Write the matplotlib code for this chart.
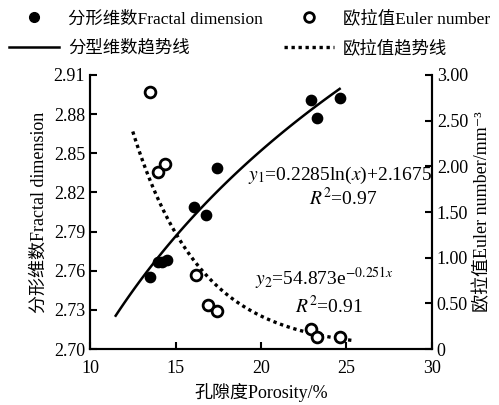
import numpy as np
import matplotlib
matplotlib.use("Agg")
import matplotlib.pyplot as plt
from matplotlib.lines import Line2D

plt.rcParams['font.family'] = ['Liberation Serif', 'Noto Sans CJK SC', 'DejaVu Serif']
plt.rcParams['mathtext.fontset'] = 'stix'
plt.rcParams['font.size'] = 13

# fractal dimension vs porosity
poro_fd = [13.5, 14.0, 14.2, 14.5, 16.1, 16.8, 17.4, 22.9, 23.3, 24.6]
fractal = [2.755, 2.767, 2.767, 2.768, 2.809, 2.803, 2.839, 2.891, 2.877, 2.892]

# Euler number vs porosity
poro_eu = [13.5, 14.0, 14.4, 16.2, 16.9, 17.4, 22.9, 23.3, 24.6]
euler = [2.81, 1.94, 2.02, 0.81, 0.48, 0.42, 0.22, 0.13, 0.13]

# trend line coefficients (from the fitted equations)
a1, b1 = 0.2285, 2.1675
a2, b2 = 54.873, -0.251
x_fd_range = (11.5, 24.6)
x_eu_range = (12.5, 25.3)

fig = plt.figure(figsize=(4.99, 4.05), dpi=100)
ax = fig.add_axes([0.1804, 0.138, 0.6853, 0.677])
ax2 = ax.twinx()

x1 = np.linspace(*x_fd_range, 100)
ax.plot(x1, a1 * np.log(x1) + b1, color='black', lw=1.8)
ax.scatter(poro_fd, fractal, s=55, color='black', zorder=3)

x2 = np.linspace(*x_eu_range, 100)
ax2.plot(x2, a2 * np.exp(b2 * x2), color='black', lw=2.4, ls=(0, (1, 1.1)))
ax2.scatter(poro_eu, euler, s=60, facecolors='white', edgecolors='black',
            linewidths=2, zorder=3)

ax.set_xlim(10, 30)
ax.set_ylim(2.70, 2.91)
ax.set_xticks([10, 15, 20, 25, 30])
ax.set_yticks(np.arange(2.70, 2.911, 0.03))
ax.set_yticklabels(['%.2f' % v for v in np.arange(2.70, 2.911, 0.03)])
ax2.set_ylim(0, 3.0)
ax2.set_yticks([0, 0.5, 1.0, 1.5, 2.0, 2.5, 3.0])
ax2.set_yticklabels(['0', '0.50', '1.00', '1.50', '2.00', '2.50', '3.00'])

for a in (ax, ax2):
    a.spines['top'].set_visible(False)
    for s in a.spines.values():
        s.set_linewidth(1.5)
    a.tick_params(direction='in', width=1.5, length=5, labelsize=13)
ax.tick_params(axis='x', pad=8)

ax.set_xlabel('孔隙度Porosity/%', fontsize=13, labelpad=4)
ax.set_ylabel('分形维数Fractal dimension', fontsize=13, labelpad=4)
ax2.set_ylabel('欧拉值Euler number/mm⁻³', fontsize=13, labelpad=4)

ax.text(1.0, 0.635, r'$y_1$=0.2285ln($x$)+2.1675', transform=ax.transAxes,
        ha='right', va='center', fontsize=14)
ax.text(0.74, 0.55, r'$R^2$=0.97', transform=ax.transAxes,
        ha='center', va='center', fontsize=14)
ax.text(0.684, 0.255, r'$y_2$=54.873e$^{-0.251x}$', transform=ax.transAxes,
        ha='center', va='center', fontsize=14)
ax.text(0.70, 0.157, r'$R^2$=0.91', transform=ax.transAxes,
        ha='center', va='center', fontsize=14)

handles = [
    Line2D([], [], marker='o', ls='none', color='black', markersize=7),
    Line2D([], [], color='black', lw=1.8),
    Line2D([], [], marker='o', ls='none', markerfacecolor='white',
           markeredgecolor='black', markeredgewidth=2, markersize=7),
    Line2D([], [], color='black', lw=2.4, ls=(0, (1, 1.1))),
]
labels = ['分形维数Fractal dimension', '分型维数趋势线',
          '欧拉值Euler number', '欧拉值趋势线']
fig.legend(handles, labels, ncol=2, loc='upper center',
           bbox_to_anchor=(0.5, 1.0), frameon=False, fontsize=12.5,
           handlelength=2.9, handletextpad=0.5, columnspacing=1.2,
           labelspacing=0.75, borderaxespad=0.2)

fig.savefig('out.png', dpi=100)
